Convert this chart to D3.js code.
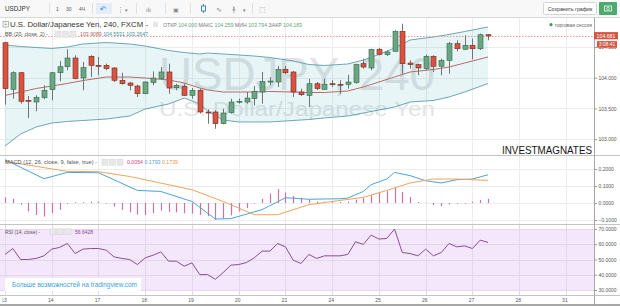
<!DOCTYPE html>
<html>
<head>
<meta charset="utf-8">
<script src="https://cdn.jsdelivr.net/npm/d3@7"></script>
<style>
  body { margin: 0; background: #fff; }
  svg { display: block; font-family: "Liberation Sans", Arial, sans-serif; }
</style>
</head>
<body>
<div id="chart"></div>
<script>
// ---- data (USDJPY 240, FXCM) ----
const dayLabels = ['13', '14', '17', '18', '19', '20', '21', '24', '25', '26', '27', '28', '31'];

const opens = [104.570, 103.811, 104.081, 103.632, 103.604, 103.674, 103.805, 104.081, 104.179, 104.321,
  103.995, 104.349, 104.202, 104.202, 104.158, 103.958, 103.914, 103.865, 103.739, 103.919,
  103.984, 104.093, 103.837, 103.860, 103.713, 103.795, 103.441, 103.441, 103.251, 103.430,
  103.604, 103.604, 103.658, 103.767, 103.941, 103.930, 104.137, 104.093, 103.767, 103.713,
  103.902, 103.811, 103.902, 103.893, 103.893, 103.919, 104.228, 104.158, 104.463, 104.375,
  104.430, 104.756, 104.239, 104.212, 104.147, 104.349, 104.186, 104.283, 104.554, 104.463,
  104.528, 104.472, 104.700];
const highs = [104.581, 104.104, 104.093, 103.702, 103.713, 103.876, 104.093, 104.272, 104.463, 104.365,
  104.256, 104.365, 104.337, 104.228, 104.174, 104.081, 103.930, 103.886, 103.941, 104.104,
  104.174, 104.228, 103.902, 103.902, 103.832, 103.821, 103.485, 103.469, 103.495, 103.658,
  103.658, 103.767, 103.865, 104.093, 104.011, 104.191, 104.191, 104.109, 103.821, 103.984,
  103.930, 103.984, 103.958, 103.958, 104.049, 104.228, 104.309, 104.472, 104.484, 104.446,
  104.772, 104.879, 104.283, 104.228, 104.375, 104.365, 104.309, 104.581, 104.609, 104.691,
  104.635, 104.717, 104.712];
const lows = [103.560, 103.658, 103.577, 103.344, 103.453, 103.648, 103.632, 103.941, 104.121, 103.974,
  103.795, 104.011, 104.039, 104.121, 103.930, 103.886, 103.795, 103.686, 103.730, 103.876,
  103.975, 103.739, 103.795, 103.702, 103.658, 103.414, 103.251, 103.169, 103.240, 103.414,
  103.577, 103.577, 103.550, 103.577, 103.876, 103.849, 104.060, 103.686, 103.702, 103.523,
  103.800, 103.800, 103.849, 103.739, 103.821, 103.902, 104.147, 104.121, 104.365, 104.353,
  104.430, 104.065, 104.147, 104.039, 104.121, 104.093, 104.039, 104.065, 104.430, 104.451,
  104.300, 104.451, 104.609];
const closes = [103.821, 104.081, 103.616, 103.616, 103.681, 103.795, 104.081, 104.179, 104.321, 103.984,
  104.163, 104.202, 104.200, 104.147, 103.958, 103.902, 103.876, 103.739, 103.930, 103.995,
  104.093, 103.832, 103.876, 103.713, 103.795, 103.441, 103.440, 103.251, 103.425, 103.604,
  103.616, 103.669, 103.779, 103.941, 103.945, 104.137, 104.081, 103.767, 103.723, 103.902,
  103.821, 103.893, 103.900, 103.890, 103.930, 104.212, 104.174, 104.463, 104.381, 104.419,
  104.756, 104.228, 104.212, 104.158, 104.349, 104.186, 104.283, 104.554, 104.472, 104.528,
  104.472, 104.700, 104.681];
const lastPrice = 104.681;

// Bollinger bands read at these candle indices
const bbIdx = [0, 2, 4, 6, 8, 10, 13, 16, 18, 21, 23, 25, 26, 28, 30, 32, 34, 37, 39, 41, 44, 46, 48, 50, 52, 55, 57, 59, 62];
const bbUpper = [104.533, 104.508, 104.492, 104.476, 104.500, 104.549, 104.573, 104.549, 104.516, 104.443,
  104.410, 104.386, 104.402, 104.386, 104.370, 104.353, 104.329, 104.272, 104.215, 104.199,
  104.223, 104.288, 104.378, 104.484, 104.614, 104.663, 104.704, 104.752, 104.826];
const bbMiddle = [103.710, 103.767, 103.824, 103.865, 103.906, 103.954, 104.011, 104.011, 103.995, 103.963,
  103.914, 103.832, 103.800, 103.767, 103.767, 103.767, 103.775, 103.767, 103.759, 103.759,
  103.783, 103.849, 103.930, 104.011, 104.093, 104.134, 104.174, 104.239, 104.337];
const bbLower = [102.888, 103.083, 103.197, 103.262, 103.287, 103.303, 103.327, 103.376, 103.490, 103.572,
  103.669, 103.572, 103.458, 103.311, 103.279, 103.279, 103.279, 103.303, 103.319, 103.344,
  103.376, 103.425, 103.474, 103.523, 103.604, 103.629, 103.686, 103.767, 103.906];

// MACD (12, 26, 9)
const macdIdx = [0, 5, 8, 12, 17, 20, 24, 27, 29, 33, 36, 39, 43, 44, 46, 47, 49, 50, 52, 54, 56, 58, 60, 62];
const macdVal = [0.255, 0.143, 0.180, 0.178, 0.074, 0.068, 0.009, -0.094, -0.092, -0.039, 0.031, 0.022,
  0.025, 0.029, 0.068, 0.108, 0.141, 0.180, 0.161, 0.131, 0.118, 0.137, 0.141, 0.166];
const signalIdx = [0, 8, 12, 16, 24, 28, 32, 35, 39, 43, 46, 49, 52, 55, 58, 62];
const signalVal = [0.245, 0.186, 0.184, 0.156, 0.078, 0.009, -0.069, -0.069, -0.010, 0.015, 0.033, 0.074,
  0.118, 0.141, 0.141, 0.133];
const histVal = [0.033, 0.025, -0.010, -0.050, -0.070, -0.080, -0.060, -0.040, -0.005, 0.005,
  0.005, 0.008, 0.008, -0.004, -0.020, -0.040, -0.055, -0.068, -0.070, -0.060,
  -0.045, -0.052, -0.055, -0.060, -0.062, -0.070, -0.078, -0.098, -0.090, -0.072,
  -0.050, -0.030, -0.004, 0.025, 0.055, 0.082, 0.062, 0.042, 0.030, 0.022,
  0.008, 0.008, 0.006, 0.006, 0.008, 0.020, 0.030, 0.048, 0.062, 0.070,
  0.088, 0.065, 0.035, 0.006, 0.002, -0.012, -0.018, -0.008, -0.004, -0.004,
  0.008, 0.018, 0.025];

// RSI (14)
const rsiVal = [53.3, 57.2, 50.0, 50.0, 50.7, 52.4, 56.8, 57.9, 60.5, 53.9,
  56.8, 57.2, 57.2, 56.1, 51.7, 50.7, 50.0, 46.7, 51.1, 52.8,
  55.0, 48.9, 48.9, 45.6, 47.8, 40.1, 40.1, 37.0, 41.4, 46.3,
  46.7, 48.0, 51.1, 55.5, 55.5, 60.5, 58.3, 49.5, 47.4, 53.3,
  50.7, 52.4, 52.4, 52.4, 53.3, 61.6, 59.9, 66.0, 63.4, 63.8,
  69.9, 54.6, 53.9, 52.4, 56.8, 52.4, 54.6, 60.5, 58.3, 58.9,
  57.2, 62.7, 61.2];

const priceTicks = [103, 103.5, 104, 104.5];
const macdTicks = [-0.1, 0, 0.1, 0.2];
const rsiTicks = [30, 40, 50, 60, 70];

// ---- layout ----
const W = 620, H = 306;
const AX = 594;                    // right price scale
const pMain = { top: 18, bottom: 155 };
const pMacd = { top: 156, bottom: 224 };
const pRsi = { top: 225, bottom: 295 };
const candlesPerDay = 6;

const c = {
  up: '#6ba583', upBorder: '#2f6a48', down: '#d75442', downBorder: '#7a261c', wick: '#737375',
  grid: '#ececec', axisText: '#555', bbLine: '#5a9ea9', bbMid: '#b05c5a', bbFill: 'rgba(40,160,180,0.11)',
  macd: '#4ba3d9', signal: '#f0a35e', hist: '#cf6fa8', rsi: '#8a4f94', rsiBg: '#f4e6fb'
};

const svg = d3.select('#chart').append('svg').attr('width', W).attr('height', H);

const x = d3.scaleLinear().domain([0, 62]).range([5, 488]);
const yMain = d3.scaleLinear().domain([103, 104]).range([139.1, 77.7]);
const yMacd = d3.scaleLinear().domain([-0.1, 0.2]).range([220, 169]);
const yRsi = d3.scaleLinear().domain([30, 70]).range([290, 229]);

const candles = opens.map((o, i) => ({ i, o, h: highs[i], l: lows[i], c: closes[i] }));
const bb = bbIdx.map((i, k) => ({ i, u: bbUpper[k], m: bbMiddle[k], l: bbLower[k] }));
const macd = macdIdx.map((i, k) => ({ i, v: macdVal[k] }));
const signal = signalIdx.map((i, k) => ({ i, v: signalVal[k] }));
const hist = histVal.map((v, i) => ({ i, v }));
const rsi = rsiVal.map((v, i) => ({ i, v }));
const dayTicks = dayLabels.map((t, k) => ({ t, i: k * candlesPerDay }));

const defs = svg.append('defs');
[['clipMain', pMain], ['clipMacd', pMacd], ['clipRsi', pRsi]].forEach(([id, p]) => {
  defs.append('clipPath').attr('id', id).append('rect')
    .attr('x', 0).attr('y', p.top).attr('width', AX).attr('height', p.bottom - p.top);
});
defs.append('clipPath').attr('id', 'clipTime').append('rect')
  .attr('x', 2.5).attr('y', pRsi.bottom).attr('width', AX - 2.5).attr('height', 10);

// ---- toolbar ----
const tb = svg.append('g');
tb.append('rect').attr('width', W).attr('height', 17).attr('fill', '#f8f8f8');
tb.append('line').attr('x1', 0).attr('x2', W).attr('y1', 17.5).attr('y2', 17.5).attr('stroke', '#d8d8d8');
tb.append('text').attr('x', 5).attr('y', 11).attr('font-size', 6.3).attr('fill', '#333').text('USDJPY');
[49, 92, 136, 165, 190, 252].forEach(sx => {
  tb.append('line').attr('x1', sx + 0.5).attr('x2', sx + 0.5).attr('y1', 3).attr('y2', 14).attr('stroke', '#e0e0e0');
});
[['1', 56], ['30', 66], ['4Ч', 79]].forEach(([t, tx]) => {
  tb.append('text').attr('x', tx).attr('y', 10.5).attr('font-size', 5).attr('fill', '#555').text(t);
});
tb.append('rect').attr('x', 96).attr('y', 3).attr('width', 16).attr('height', 11).attr('fill', '#e4eefa');
const tbSym = [['↶', 100, '#3d85c6', 8], ['⋮', 117, '#777', 7], ['▾', 125, '#777', 5],
  ['ılı', 146, '#777', 6], ['▣', 173, '#888', 6], ['∿', 216, '#777', 7], ['╀', 232, '#777', 6],
  ['▾', 243, '#777', 5], ['⬚', 259, '#888', 7]];
tbSym.forEach(([t, tx, col, fs]) => {
  tb.append('text').attr('x', tx).attr('y', 11.5).attr('font-size', fs).attr('fill', col)
    .attr('font-family', 'DejaVu Sans').text(t);
});
// candle-style icon (active)
tb.append('line').attr('x1', 203.5).attr('x2', 203.5).attr('y1', 4).attr('y2', 13).attr('stroke', '#3d85c6');
tb.append('rect').attr('x', 201.5).attr('y', 6).attr('width', 4).attr('height', 5).attr('fill', '#fff').attr('stroke', '#3d85c6');
// save button
tb.append('rect').attr('x', 543.5).attr('y', 2.5).attr('width', 53).attr('height', 12).attr('fill', '#fff')
  .attr('stroke', '#d4d4d4').attr('rx', 1);
tb.append('text').attr('x', 570).attr('y', 10.6).attr('text-anchor', 'middle').attr('font-size', 5.2)
  .attr('fill', '#333').text('Сохранить график');
tb.append('rect').attr('x', 599).attr('y', 2).attr('width', 18).attr('height', 13).attr('fill', '#4caa6e').attr('rx', 1);
tb.append('rect').attr('x', 604.5).attr('y', 6).attr('width', 7).attr('height', 5).attr('fill', 'none')
  .attr('stroke', '#fff').attr('stroke-width', 0.8);
tb.append('circle').attr('cx', 608).attr('cy', 8.5).attr('r', 1.3).attr('fill', 'none').attr('stroke', '#fff').attr('stroke-width', 0.7);

// ---- grids ----
function grid(p, yScale, ticks, color) {
  const g = svg.append('g');
  dayTicks.forEach(d => {
    g.append('line').attr('x1', Math.round(x(d.i)) + 0.5).attr('x2', Math.round(x(d.i)) + 0.5)
      .attr('y1', p.top).attr('y2', p.bottom).attr('stroke', color);
  });
  ticks.forEach(t => {
    const yy = Math.round(yScale(t)) + 0.5;
    if (yy > p.top && yy < p.bottom) {
      g.append('line').attr('x1', 0).attr('x2', AX).attr('y1', yy).attr('y2', yy).attr('stroke', color);
    }
  });
}

// ---- main pane ----
grid(pMain, yMain, priceTicks, c.grid);

// watermark
const wm = svg.append('g').attr('clip-path', 'url(#clipMain)').attr('fill', '#e3e3e5').attr('text-anchor', 'middle');
wm.append('text').attr('x', AX / 2).attr('y', 90).attr('font-size', 46).attr('textLength', 276)
  .attr('lengthAdjust', 'spacingAndGlyphs').text('USDJPY, 240');
wm.append('text').attr('x', AX / 2).attr('y', 116).attr('font-size', 19.5).attr('textLength', 276)
  .attr('lengthAdjust', 'spacingAndGlyphs').text('U.S. Dollar/Japanese Yen');

const mainMarks = svg.append('g').attr('clip-path', 'url(#clipMain)');
mainMarks.append('path').datum(bb)
  .attr('d', d3.area().x(d => x(d.i)).y0(d => yMain(d.l)).y1(d => yMain(d.u)))
  .attr('fill', c.bbFill);
[['u', c.bbLine], ['l', c.bbLine], ['m', c.bbMid]].forEach(([k, col]) => {
  mainMarks.append('path').datum(bb)
    .attr('d', d3.line().x(d => x(d.i)).y(d => yMain(d[k])))
    .attr('fill', 'none').attr('stroke', col).attr('stroke-width', 0.9);
});

// last price line
mainMarks.append('line').attr('x1', 0).attr('x2', AX)
  .attr('y1', Math.round(yMain(lastPrice)) + 0.5).attr('y2', Math.round(yMain(lastPrice)) + 0.5)
  .attr('stroke', '#e39b93').attr('stroke-dasharray', '1.5,1.5');

// candles
const cg = mainMarks.selectAll('g.candle').data(candles).join('g').attr('class', 'candle');
cg.append('line')
  .attr('x1', d => Math.round(x(d.i)) + 0.5).attr('x2', d => Math.round(x(d.i)) + 0.5)
  .attr('y1', d => yMain(d.h)).attr('y2', d => yMain(d.l))
  .attr('stroke', c.wick).attr('stroke-width', 1);
cg.append('rect')
  .attr('x', d => Math.round(x(d.i)) - 2)
  .attr('y', d => yMain(Math.max(d.o, d.c)))
  .attr('width', 5)
  .attr('height', d => Math.max(1, Math.abs(yMain(d.o) - yMain(d.c))))
  .attr('fill', d => d.c >= d.o ? c.up : c.down)
  .attr('stroke', d => d.c >= d.o ? c.upBorder : c.downBorder)
  .attr('stroke-width', 0.6);

// ---- MACD pane ----
grid(pMacd, yMacd, macdTicks, c.grid);
const macdG = svg.append('g').attr('clip-path', 'url(#clipMacd)');
macdG.selectAll('line.hist').data(hist).join('line').attr('class', 'hist')
  .attr('x1', d => Math.round(x(d.i)) + 0.5).attr('x2', d => Math.round(x(d.i)) + 0.5)
  .attr('y1', yMacd(0)).attr('y2', d => yMacd(d.v))
  .attr('stroke', c.hist).attr('stroke-width', 1.2);
[[macd, c.macd], [signal, c.signal]].forEach(([data, col]) => {
  macdG.append('path').datum(data)
    .attr('d', d3.line().x(d => x(d.i)).y(d => yMacd(d.v)))
    .attr('fill', 'none').attr('stroke', col).attr('stroke-width', 1);
});

// ---- RSI pane ----
svg.append('rect').attr('x', 0).attr('y', yRsi(70)).attr('width', AX).attr('height', yRsi(30) - yRsi(70))
  .attr('fill', c.rsiBg);
grid(pRsi, yRsi, rsiTicks, '#e4d6ec');
const rsiG = svg.append('g').attr('clip-path', 'url(#clipRsi)');
rsiG.append('path').datum(rsi)
  .attr('d', d3.line().x(d => x(d.i)).y(d => yRsi(d.v)))
  .attr('fill', 'none').attr('stroke', c.rsi).attr('stroke-width', 1);

// promo box
svg.append('rect').attr('x', 5).attr('y', 278).attr('width', 136).attr('height', 13).attr('fill', '#fff');
svg.append('text').attr('x', 12).attr('y', 287).attr('font-size', 6.4).attr('fill', '#3a9fdc')
  .attr('textLength', 125).attr('lengthAdjust', 'spacingAndGlyphs').text('Больше возможностей на tradingview.com');

// ---- separators & frame ----
const frame = svg.append('g').attr('stroke', '#c4c4c4');
[pMain.bottom, pMacd.bottom, pRsi.bottom].forEach(yy => {
  frame.append('line').attr('x1', 0).attr('x2', W).attr('y1', yy + 0.5).attr('y2', yy + 0.5);
});
frame.append('line').attr('x1', AX + 0.5).attr('x2', AX + 0.5).attr('y1', 18).attr('y2', 305).attr('stroke', '#a8a8a8');
svg.append('line').attr('x1', 0).attr('x2', W).attr('y1', 305).attr('y2', 305).attr('stroke', '#8a8a8a').attr('stroke-width', 1.5);

// ---- right axes ----
function rightAxis(scale, ticks, fmt) {
  const g = svg.append('g').attr('transform', `translate(${AX + 0.5},0)`)
    .call(d3.axisRight(scale).tickValues(ticks).tickSize(2.5).tickPadding(1.5).tickFormat(fmt));
  g.select('.domain').remove();
  g.selectAll('line').attr('stroke', '#999');
  g.selectAll('text').attr('font-size', 5).attr('fill', c.axisText).attr('font-family', '"Liberation Sans", Arial, sans-serif');
  return g;
}
rightAxis(yMain, priceTicks, d3.format('.3f'));
rightAxis(yMacd, macdTicks, d3.format('.4f'));
rightAxis(yRsi, rsiTicks, d3.format('.4f'));

// last price + countdown labels (countdown sits over the 104.500 tick as in the original)
const ly = yMain(lastPrice);
svg.append('rect').attr('x', AX).attr('y', ly - 3.8).attr('width', 24).attr('height', 7.2).attr('fill', '#d75442');
svg.append('text').attr('x', AX + 12).attr('y', ly + 1.8).attr('text-anchor', 'middle').attr('font-size', 5.2)
  .attr('fill', '#fff').text(d3.format('.3f')(lastPrice));
svg.append('rect').attr('x', AX + 3).attr('y', ly + 5.2).attr('width', 20).attr('height', 6.6).attr('fill', '#d75442');
svg.append('text').attr('x', AX + 13).attr('y', ly + 10.3).attr('text-anchor', 'middle').attr('font-size', 5)
  .attr('fill', '#fff').text('3:08:41');

// ---- time axis ----
svg.append('g').attr('clip-path', 'url(#clipTime)').selectAll('text').data(dayTicks).join('text')
  .attr('x', d => x(d.i) - 1).attr('y', 302).attr('text-anchor', 'middle')
  .attr('font-size', 5).attr('fill', c.axisText).text(d => d.t);

// ---- legends ----
const lg = svg.append('g');
lg.append('rect').attr('x', 3).attr('y', 21.5).attr('width', 5.5).attr('height', 5.5).attr('fill', 'none')
  .attr('stroke', '#888').attr('stroke-width', 0.6);
lg.append('line').attr('x1', 4.3).attr('x2', 7.2).attr('y1', 24.25).attr('y2', 24.25).attr('stroke', '#666').attr('stroke-width', 0.6);
lg.append('text').attr('x', 10).attr('y', 27.3).attr('font-size', 7.6).attr('fill', '#333')
  .attr('textLength', 138).attr('lengthAdjust', 'spacingAndGlyphs').text('U.S. Dollar/Japanese Yen, 240, FXCM -');
lg.append('rect').attr('x', 153).attr('y', 22).attr('width', 5).attr('height', 5).attr('fill', '#e6e6e6');

// a run of coloured pieces squeezed into a given width
function textRun(px, py, width, pieces, fs) {
  const t = lg.append('text').attr('x', px).attr('y', py).attr('font-size', fs)
    .attr('textLength', width).attr('lengthAdjust', 'spacingAndGlyphs');
  pieces.forEach(([s, col], k) => t.append('tspan').attr('fill', col).text((k ? ' ' : '') + s));
}
const ohlcGreen = '#5aa57a', ohlcGray = '#777';
textRun(163, 26.8, 139, [['ОТКР', ohlcGray], ['104.000', ohlcGreen], ['МАКС', ohlcGray], ['104.259', ohlcGreen],
  ['МИН', ohlcGray], ['103.794', ohlcGreen], ['ЗАКР', ohlcGray], ['104.183', ohlcGreen]], 5.2);

function indLegend(y, label, labelW, boxX, vals, valsW) {
  lg.append('text').attr('x', 5).attr('y', y).attr('font-size', 5.2).attr('fill', '#555')
    .attr('textLength', labelW).attr('lengthAdjust', 'spacingAndGlyphs').text(label);
  [0, 1, 2].forEach(k => lg.append('rect').attr('x', boxX + k * 7.5).attr('y', y - 5).attr('width', 6).attr('height', 6)
    .attr('fill', '#e8e8e8').attr('stroke', '#d0d0d0').attr('stroke-width', 0.4));
  textRun(boxX + 25, y, valsW, vals, 5.2);
}
indLegend(36.2, 'BB (20, close, 2) -', 43, 55, [['103.9089', c.bbMid], ['104.5531', '#3f8f9c'], ['103.2647', '#3f8f9c']], 68);
indLegend(164.2, 'MACD (12, 26, close, 9, false, true) -', 92, 102, [['0.0054', '#d0468f'], ['0.1793', c.macd], ['0.1739', '#e8944a']], 51);
indLegend(233.8, 'RSI (14, close) -', 35, 50, [['56.6428', '#8b3f9a']], 18);

// session marker
lg.append('circle').attr('cx', 551).attr('cy', 24.7).attr('r', 1.6).attr('fill', '#3f9a62');
lg.append('text').attr('x', 554.5).attr('y', 26.5).attr('font-size', 5).attr('fill', '#666').text('торговая сессия');

// brand caption
svg.append('text').attr('x', 502).attr('y', 153.5).attr('font-size', 11.5).attr('fill', '#151515')
  .attr('textLength', 90).attr('lengthAdjust', 'spacingAndGlyphs').text('INVESTMAGNATES');
</script>
</body>
</html>
